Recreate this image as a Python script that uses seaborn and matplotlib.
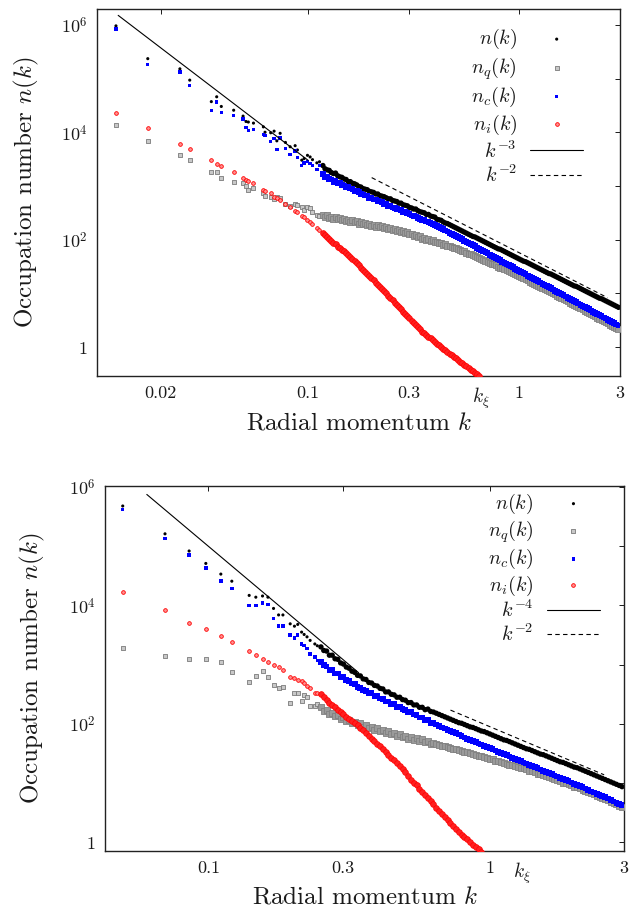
import numpy as np
import matplotlib
matplotlib.use("Agg")
import matplotlib.pyplot as plt
import seaborn as sns
from matplotlib.ticker import FixedLocator, FixedFormatter, NullLocator

# ===================== DATA =====================
# ---------- top panel ----------
top_k_sparse = [0.0123, 0.0174, 0.0247, 0.0275, 0.0348, 0.0369, 0.0388, 0.0444, 0.0492, 0.0508,
                0.0521, 0.0551, 0.0614, 0.0625, 0.0665, 0.0690, 0.0711, 0.0737, 0.0781, 0.0822,
                0.0868, 0.0890, 0.0933, 0.0957, 0.0993, 0.1022, 0.1049, 0.1100, 0.1132]
# log10 of occupation numbers at the sparse (low-k) momenta
top_logn_sparse_n = [5.98, 5.37, 5.18, 4.97, 4.57, 4.66, 4.48, 4.41, 4.30, 4.20,
                     4.19, 4.17, 4.10, 4.00, 3.99, 4.02, 3.84, 3.98, 3.81, 3.73,
                     3.75, 3.67, 3.48, 3.51, 3.57, 3.54, 3.49, 3.43, 3.45]
top_logn_sparse_nq = [4.13, 3.84, 3.57, 3.48, 3.26, 3.26, 3.15, 3.07, 3.06, 3.00,
                      2.93, 2.97, 2.87, 2.82, 2.80, 2.75, 2.79, 2.78, 2.66, 2.63,
                      2.66, 2.64, 2.60, 2.56, 2.60, 2.59, 2.52, 2.45, 2.44]
top_logn_sparse_nc = [5.92, 5.26, 5.12, 4.87, 4.41, 4.56, 4.37, 4.31, 4.25, 4.09,
                      4.03, 4.05, 3.96, 3.94, 3.83, 3.88, 3.68, 3.89, 3.70, 3.59,
                      3.65, 3.53, 3.38, 3.43, 3.45, 3.42, 3.38, 3.31, 3.38]
top_logn_sparse_ni = [4.36, 4.08, 3.78, 3.69, 3.49, 3.41, 3.38, 3.26, 3.14, 3.12,
                      3.10, 3.05, 2.93, 2.90, 2.86, 2.79, 2.77, 2.73, 2.67, 2.61,
                      2.54, 2.51, 2.44, 2.42, 2.36, 2.33, 2.30, 2.22, 2.18]

# dense (high-k) region: log10 k and log10 n
top_logk_dense = [
    -0.93, -0.92, -0.91, -0.90, -0.89, -0.88, -0.87, -0.86, -0.85, -0.84,
    -0.83, -0.82, -0.81, -0.80, -0.79, -0.78, -0.77, -0.76, -0.75, -0.74,
    -0.73, -0.72, -0.71, -0.70, -0.69, -0.68, -0.67, -0.66, -0.65, -0.64,
    -0.63, -0.62, -0.61, -0.60, -0.59, -0.58, -0.57, -0.56, -0.55, -0.54,
    -0.53, -0.52, -0.51, -0.50, -0.49, -0.48, -0.47, -0.46, -0.45, -0.44,
    -0.43, -0.42, -0.41, -0.40, -0.39, -0.38, -0.37, -0.36, -0.35, -0.34,
    -0.33, -0.32, -0.31, -0.30, -0.29, -0.28, -0.27, -0.26, -0.25, -0.24,
    -0.23, -0.22, -0.21, -0.20, -0.19, -0.18, -0.17, -0.16, -0.15, -0.14,
    -0.13, -0.12, -0.11, -0.10, -0.09, -0.08, -0.07, -0.06, -0.05, -0.04,
    -0.03, -0.02, -0.01, 0.00, 0.01, 0.02, 0.03, 0.04, 0.05, 0.06,
    0.07, 0.08, 0.09, 0.10, 0.11, 0.12, 0.13, 0.14, 0.15, 0.16,
    0.17, 0.18, 0.19, 0.20, 0.21, 0.22, 0.23, 0.24, 0.25, 0.26,
    0.27, 0.28, 0.29, 0.30, 0.31, 0.32, 0.33, 0.34, 0.35, 0.36,
    0.37, 0.38, 0.39, 0.40, 0.41, 0.42, 0.43, 0.44, 0.45, 0.46,
    0.47]
top_logn_dense_n = [
    3.38, 3.32, 3.30, 3.29, 3.25, 3.23, 3.24, 3.19, 3.17, 3.16,
    3.13, 3.12, 3.08, 3.08, 3.05, 3.04, 3.02, 2.99, 2.98, 2.95,
    2.94, 2.93, 2.90, 2.89, 2.88, 2.85, 2.85, 2.82, 2.81, 2.80,
    2.78, 2.76, 2.76, 2.73, 2.72, 2.71, 2.68, 2.68, 2.65, 2.64,
    2.63, 2.60, 2.59, 2.57, 2.57, 2.54, 2.52, 2.51, 2.50, 2.47,
    2.47, 2.44, 2.43, 2.42, 2.38, 2.37, 2.36, 2.33, 2.31, 2.30,
    2.28, 2.26, 2.24, 2.22, 2.20, 2.18, 2.16, 2.14, 2.12, 2.10,
    2.08, 2.06, 2.05, 2.03, 2.01, 1.99, 1.97, 1.95, 1.93, 1.91,
    1.89, 1.87, 1.85, 1.83, 1.82, 1.80, 1.78, 1.76, 1.74, 1.72,
    1.70, 1.68, 1.66, 1.64, 1.62, 1.60, 1.59, 1.57, 1.55, 1.53,
    1.51, 1.49, 1.47, 1.45, 1.43, 1.41, 1.39, 1.37, 1.36, 1.34,
    1.32, 1.30, 1.28, 1.26, 1.24, 1.22, 1.20, 1.18, 1.16, 1.14,
    1.13, 1.11, 1.09, 1.07, 1.05, 1.03, 1.01, 0.99, 0.97, 0.95,
    0.93, 0.91, 0.90, 0.88, 0.86, 0.84, 0.82, 0.80, 0.78, 0.76,
    0.74]
top_logn_dense_nq = [
    2.46, 2.43, 2.45, 2.41, 2.43, 2.39, 2.42, 2.38, 2.40, 2.36,
    2.39, 2.35, 2.37, 2.33, 2.36, 2.32, 2.34, 2.30, 2.33, 2.29,
    2.31, 2.27, 2.30, 2.26, 2.28, 2.24, 2.27, 2.23, 2.25, 2.21,
    2.24, 2.20, 2.22, 2.18, 2.20, 2.16, 2.18, 2.14, 2.16, 2.12,
    2.14, 2.10, 2.11, 2.07, 2.09, 2.05, 2.06, 2.02, 2.04, 2.00,
    2.01, 1.97, 1.99, 1.95, 1.96, 1.93, 1.94, 1.90, 1.91, 1.88,
    1.88, 1.86, 1.85, 1.84, 1.82, 1.81, 1.79, 1.78, 1.76, 1.74,
    1.73, 1.71, 1.69, 1.68, 1.66, 1.64, 1.62, 1.61, 1.59, 1.57,
    1.55, 1.54, 1.52, 1.50, 1.48, 1.47, 1.45, 1.43, 1.41, 1.40,
    1.38, 1.36, 1.34, 1.32, 1.30, 1.28, 1.26, 1.24, 1.22, 1.20,
    1.18, 1.16, 1.14, 1.12, 1.10, 1.08, 1.06, 1.04, 1.02, 1.00,
    0.98, 0.96, 0.94, 0.91, 0.89, 0.87, 0.85, 0.83, 0.81, 0.79,
    0.77, 0.74, 0.72, 0.70, 0.68, 0.66, 0.64, 0.62, 0.60, 0.57,
    0.55, 0.53, 0.51, 0.49, 0.47, 0.44, 0.42, 0.40, 0.38, 0.36,
    0.34]
top_logn_dense_nc = [
    3.22, 3.17, 3.17, 3.13, 3.12, 3.08, 3.10, 3.06, 3.05, 3.02,
    3.01, 2.98, 2.98, 2.95, 2.94, 2.91, 2.90, 2.89, 2.85, 2.84,
    2.82, 2.82, 2.78, 2.78, 2.75, 2.75, 2.72, 2.71, 2.70, 2.66,
    2.66, 2.63, 2.63, 2.60, 2.59, 2.57, 2.56, 2.55, 2.52, 2.51,
    2.49, 2.48, 2.45, 2.44, 2.43, 2.40, 2.39, 2.37, 2.36, 2.34,
    2.33, 2.31, 2.29, 2.27, 2.26, 2.24, 2.22, 2.20, 2.17, 2.15,
    2.13, 2.11, 2.09, 2.07, 2.05, 2.03, 2.01, 1.98, 1.96, 1.94,
    1.92, 1.90, 1.88, 1.85, 1.83, 1.81, 1.79, 1.77, 1.75, 1.72,
    1.70, 1.68, 1.66, 1.64, 1.62, 1.59, 1.57, 1.55, 1.53, 1.51,
    1.49, 1.46, 1.44, 1.42, 1.40, 1.38, 1.36, 1.33, 1.31, 1.29,
    1.27, 1.25, 1.23, 1.20, 1.18, 1.16, 1.14, 1.12, 1.10, 1.07,
    1.05, 1.03, 1.01, 0.99, 0.97, 0.94, 0.92, 0.90, 0.88, 0.86,
    0.84, 0.81, 0.79, 0.77, 0.75, 0.73, 0.71, 0.68, 0.66, 0.64,
    0.62, 0.60, 0.58, 0.55, 0.53, 0.51, 0.49, 0.47, 0.45, 0.42,
    0.40]
top_logn_dense_ni = [
    2.12, 2.09, 2.05, 2.01, 1.98, 1.94, 1.91, 1.87, 1.84, 1.81,
    1.78, 1.75, 1.71, 1.68, 1.64, 1.60, 1.56, 1.52, 1.48, 1.44,
    1.40, 1.36, 1.32, 1.28, 1.24, 1.20, 1.16, 1.12, 1.08, 1.04,
    1.00, 0.96, 0.92, 0.87, 0.83, 0.79, 0.75, 0.71, 0.66, 0.62,
    0.58, 0.54, 0.49, 0.45, 0.41, 0.37, 0.33, 0.29, 0.26, 0.22,
    0.19, 0.16, 0.13, 0.09, 0.06, 0.03, 0.00, -0.03, -0.06, -0.09,
    -0.12, -0.15, -0.18, -0.21, -0.24, -0.27, -0.30, -0.33, -0.36, -0.39,
    -0.42, -0.45, -0.48, -0.51, -0.54]

# guide power laws (end points)
top_k3_k = [0.0126, 0.100]
top_k3_n = [1.5e6, 3.0e3]
top_k2_k = [0.20, 2.62]
top_k2_n = [1430.0, 8.3]
top_kxi = 0.66

# ---------- bottom panel ----------
bot_k_sparse = [0.0496, 0.0701, 0.0854, 0.0979, 0.1107, 0.1211, 0.1396, 0.1474, 0.1557, 0.1627,
                0.1704, 0.1776, 0.1840, 0.1953, 0.2022, 0.2077, 0.2144, 0.2189, 0.2241, 0.2299,
                0.2389, 0.2438]
bot_logn_sparse_n = [5.68, 5.21, 4.92, 4.71, 4.53, 4.41, 4.17, 4.14, 4.16, 4.14,
                     3.95, 3.84, 3.84, 3.69, 3.65, 3.68, 3.55, 3.51, 3.47, 3.41,
                     3.35, 3.32]
bot_logn_sparse_nq = [3.28, 3.15, 3.10, 3.10, 3.05, 2.87, 2.71, 2.81, 2.89, 2.79,
                      2.65, 2.61, 2.62, 2.35, 2.52, 2.52, 2.38, 2.49, 2.45, 2.31,
                      2.31, 2.33]
bot_logn_sparse_nc = [5.62, 5.13, 4.85, 4.63, 4.41, 4.29, 4.00, 4.00, 4.04, 4.02,
                      3.78, 3.65, 3.65, 3.50, 3.45, 3.50, 3.35, 3.32, 3.27, 3.18,
                      3.13, 3.07]
bot_logn_sparse_ni = [4.23, 3.92, 3.70, 3.61, 3.48, 3.38, 3.23, 3.16, 3.10, 3.04,
                      2.99, 2.96, 2.91, 2.80, 2.77, 2.74, 2.72, 2.69, 2.64, 2.61,
                      2.53, 2.52]

bot_logk_dense = [
    -0.60, -0.59, -0.58, -0.57, -0.56, -0.55, -0.54, -0.53, -0.52, -0.51,
    -0.50, -0.49, -0.48, -0.47, -0.46, -0.45, -0.44, -0.43, -0.42, -0.41,
    -0.40, -0.39, -0.38, -0.37, -0.36, -0.35, -0.34, -0.33, -0.32, -0.31,
    -0.30, -0.29, -0.28, -0.27, -0.26, -0.25, -0.24, -0.23, -0.22, -0.21,
    -0.20, -0.19, -0.18, -0.17, -0.16, -0.15, -0.14, -0.13, -0.12, -0.11,
    -0.10, -0.09, -0.08, -0.07, -0.06, -0.05, -0.04, -0.03, -0.02, -0.01,
    0.00, 0.01, 0.02, 0.03, 0.04, 0.05, 0.06, 0.07, 0.08, 0.09,
    0.10, 0.11, 0.12, 0.13, 0.14, 0.15, 0.16, 0.17, 0.18, 0.19,
    0.20, 0.21, 0.22, 0.23, 0.24, 0.25, 0.26, 0.27, 0.28, 0.29,
    0.30, 0.31, 0.32, 0.33, 0.34, 0.35, 0.36, 0.37, 0.38, 0.39,
    0.40, 0.41, 0.42, 0.43, 0.44, 0.45, 0.46, 0.47]
bot_logn_dense_n = [
    3.30, 3.24, 3.23, 3.16, 3.16, 3.10, 3.09, 3.03, 3.01, 2.96,
    2.94, 2.89, 2.87, 2.82, 2.81, 2.76, 2.75, 2.70, 2.69, 2.65,
    2.64, 2.60, 2.59, 2.54, 2.54, 2.50, 2.49, 2.45, 2.45, 2.41,
    2.40, 2.36, 2.36, 2.32, 2.32, 2.28, 2.28, 2.24, 2.25, 2.21,
    2.20, 2.18, 2.16, 2.14, 2.12, 2.10, 2.08, 2.06, 2.04, 2.02,
    2.01, 1.99, 1.97, 1.95, 1.94, 1.92, 1.90, 1.88, 1.87, 1.85,
    1.83, 1.81, 1.79, 1.77, 1.75, 1.73, 1.72, 1.70, 1.68, 1.66,
    1.64, 1.62, 1.60, 1.58, 1.57, 1.55, 1.53, 1.51, 1.49, 1.48,
    1.46, 1.44, 1.42, 1.40, 1.38, 1.36, 1.35, 1.33, 1.31, 1.29,
    1.27, 1.26, 1.24, 1.22, 1.20, 1.18, 1.16, 1.14, 1.12, 1.10,
    1.08, 1.06, 1.04, 1.02, 1.00, 0.98, 0.96, 0.94]
bot_logn_dense_nq = [
    2.28, 2.22, 2.24, 2.17, 2.19, 2.13, 2.15, 2.09, 2.11, 2.05,
    2.07, 2.02, 2.04, 1.98, 2.01, 1.95, 1.98, 1.93, 1.95, 1.90,
    1.93, 1.88, 1.90, 1.85, 1.88, 1.83, 1.85, 1.80, 1.83, 1.78,
    1.80, 1.75, 1.78, 1.73, 1.76, 1.71, 1.74, 1.69, 1.71, 1.66,
    1.67, 1.66, 1.65, 1.63, 1.62, 1.61, 1.60, 1.58, 1.57, 1.56,
    1.55, 1.53, 1.52, 1.50, 1.49, 1.48, 1.46, 1.45, 1.44, 1.42,
    1.41, 1.40, 1.38, 1.37, 1.36, 1.34, 1.33, 1.31, 1.30, 1.29,
    1.27, 1.26, 1.25, 1.23, 1.21, 1.20, 1.18, 1.16, 1.15, 1.13,
    1.12, 1.10, 1.08, 1.07, 1.05, 1.03, 1.01, 1.00, 0.98, 0.96,
    0.94, 0.93, 0.91, 0.89, 0.87, 0.85, 0.83, 0.81, 0.79, 0.77,
    0.75, 0.73, 0.71, 0.68, 0.66, 0.64, 0.62, 0.60]
bot_logn_dense_nc = [
    3.05, 2.99, 2.97, 2.91, 2.91, 2.85, 2.85, 2.79, 2.79, 2.74,
    2.73, 2.68, 2.67, 2.62, 2.61, 2.57, 2.56, 2.52, 2.52, 2.47,
    2.47, 2.43, 2.42, 2.38, 2.38, 2.34, 2.33, 2.29, 2.29, 2.25,
    2.24, 2.20, 2.20, 2.16, 2.15, 2.11, 2.11, 2.07, 2.06, 2.02,
    2.01, 1.99, 1.96, 1.94, 1.92, 1.90, 1.88, 1.86, 1.84, 1.82,
    1.79, 1.77, 1.75, 1.73, 1.71, 1.69, 1.67, 1.65, 1.63, 1.61,
    1.59, 1.57, 1.55, 1.53, 1.51, 1.49, 1.47, 1.45, 1.43, 1.41,
    1.39, 1.37, 1.35, 1.33, 1.31, 1.29, 1.27, 1.25, 1.23, 1.21,
    1.19, 1.17, 1.15, 1.13, 1.11, 1.09, 1.07, 1.05, 1.03, 1.01,
    0.99, 0.97, 0.95, 0.93, 0.91, 0.88, 0.86, 0.84, 0.82, 0.80,
    0.78, 0.76, 0.74, 0.71, 0.69, 0.67, 0.65, 0.63]
bot_logn_dense_ni = [
    2.50, 2.45, 2.41, 2.36, 2.32, 2.28, 2.24, 2.20, 2.16, 2.12,
    2.09, 2.05, 2.02, 1.98, 1.93, 1.89, 1.84, 1.80, 1.75, 1.71,
    1.66, 1.62, 1.57, 1.53, 1.48, 1.43, 1.39, 1.34, 1.29, 1.23,
    1.18, 1.12, 1.06, 1.01, 0.96, 0.90, 0.85, 0.80, 0.74, 0.69,
    0.64, 0.58, 0.53, 0.47, 0.42, 0.37, 0.32, 0.27, 0.22, 0.18,
    0.13, 0.09, 0.05, 0.01, -0.04, -0.08, -0.12, -0.16]

bot_k4_k = [0.0604, 0.342]
bot_k4_n = [7.5e5, 731.0]
bot_k2_k = [0.725, 2.55]
bot_k2_n = [171.0, 13.8]
bot_kxi = 1.30

# ===================== STYLE =====================
sns.set_style("white")
plt.rcParams.update({
    "font.family": "cmr10",
    "mathtext.fontset": "cm",
    "axes.unicode_minus": False,
    "axes.formatter.use_mathtext": True,
    "text.color": "#1a1a1a",
    "axes.labelcolor": "#1a1a1a",
    "xtick.color": "#1a1a1a",
    "ytick.color": "#1a1a1a",
    "axes.edgecolor": "#222222",
})

STYLE = {
    "n":  dict(marker="o", color="black", edgecolor="none", linewidth=0, s=5, zorder=2,
               d_color="black", d_edge="none", d_lw=0, s_dense=15),
    "nq": dict(marker="s", color="#c8c8c8", edgecolor="#7a7a7a", linewidth=0.6, s=5.5, zorder=3,
               d_color="#9a9a9a", d_edge="#808080", d_lw=0.6, s_dense=13),
    "nc": dict(marker="s", color="#0000ff", edgecolor="none", linewidth=0, s=6, zorder=4,
               d_color="#0000ff", d_edge="none", d_lw=0, s_dense=17),
    "ni": dict(marker="o", color="#ff9090", edgecolor="#ff0000", linewidth=0.6, s=7, zorder=5,
               d_color="#ff2020", d_edge="#ff0000", d_lw=0.5, s_dense=17),
}
LABELS = {"n": r"$n(k)$", "nq": r"$n_q(k)$", "nc": r"$n_c(k)$", "ni": r"$n_i(k)$"}


def draw_panel(ax, k_sparse, sparse, logk_dense, dense, steep, shallow, steep_label,
               xlim, ylim, xticks, xticklabels, kxi, ylabel_x, legend_anchor, labelspacing):
    ax.set_xscale("log")
    ax.set_yscale("log")
    for key in ["n", "nq", "nc", "ni"]:
        st = STYLE[key]
        sns.scatterplot(x=np.array(k_sparse), y=10 ** np.array(sparse[key]), ax=ax,
                        marker=st["marker"], s=st["s"], color=st["color"],
                        edgecolor=st["edgecolor"], linewidth=st["linewidth"],
                        zorder=st["zorder"], label=LABELS[key], legend=False)
        ld = np.array(dense[key])
        kd = 10 ** np.array(logk_dense[:len(ld)])
        sns.scatterplot(x=kd, y=10 ** ld, ax=ax,
                        marker=st["marker"], s=st["s_dense"], color=st["d_color"],
                        edgecolor=st["d_edge"], linewidth=st["d_lw"],
                        zorder=st["zorder"], legend=False)
    sns.lineplot(x=steep[0], y=steep[1], ax=ax, color="black", linewidth=0.8,
                 estimator=None, sort=False, label=steep_label, legend=False, zorder=6)
    sns.lineplot(x=shallow[0], y=shallow[1], ax=ax, color="black", linewidth=0.8,
                 linestyle=(0, (4, 3)), estimator=None, sort=False,
                 label=r"$k^{-2}$", legend=False, zorder=6)

    ax.set_xlim(*xlim)
    ax.set_ylim(*ylim)
    ax.xaxis.set_major_locator(FixedLocator(xticks))
    ax.xaxis.set_major_formatter(FixedFormatter(xticklabels))
    ax.xaxis.set_minor_locator(FixedLocator([kxi]))
    ax.xaxis.set_minor_formatter(FixedFormatter([r"$k_\xi$"]))
    ydec = [1, 10, 100, 1e3, 1e4, 1e5, 1e6]
    ylab = [r"$1$", "", r"$10^2$", "", r"$10^4$", "", r"$10^6$"]
    ax.yaxis.set_major_locator(FixedLocator(ydec))
    ax.yaxis.set_major_formatter(FixedFormatter(ylab))
    ax.yaxis.set_minor_locator(NullLocator())
    ax.tick_params(axis="both", which="major", direction="in", length=3.8, width=0.7,
                   labelsize=13, pad=7, top=True, right=True)
    ax.tick_params(axis="x", which="minor", direction="in", length=7.5, width=0.7,
                   labelsize=14, pad=7, top=False)
    for sp in ax.spines.values():
        sp.set_linewidth(1.0)

    ax.set_xlabel(r"Radial momentum $k$", fontsize=18)
    ax.set_ylabel(r"Occupation number $n(k)$", fontsize=18)
    ax.xaxis.set_label_coords(0.5, -0.098)
    ax.yaxis.set_label_coords(ylabel_x, 0.5)

    handles, labels = ax.get_legend_handles_labels()
    hmap = dict(zip(labels, handles))
    order = [LABELS["n"], LABELS["nq"], LABELS["nc"], LABELS["ni"], steep_label, r"$k^{-2}$"]
    ax.legend([hmap[l] for l in order], order, loc="upper right", bbox_to_anchor=legend_anchor,
              frameon=False, markerfirst=False, scatterpoints=1, handlelength=2.65,
              handletextpad=0.65, labelspacing=labelspacing, borderpad=0, borderaxespad=0,
              fontsize=14.5)


fig = plt.figure(figsize=(6.41, 9.09), dpi=100)
ax1 = fig.add_axes([0.1513, 0.5864, 0.8159, 0.4037])
ax2 = fig.add_axes([0.1638, 0.0638, 0.8097, 0.4015])

draw_panel(ax1, top_k_sparse,
           {"n": top_logn_sparse_n, "nq": top_logn_sparse_nq,
            "nc": top_logn_sparse_nc, "ni": top_logn_sparse_ni},
           top_logk_dense,
           {"n": top_logn_dense_n, "nq": top_logn_dense_nq,
            "nc": top_logn_dense_nc, "ni": top_logn_dense_ni},
           (top_k3_k, top_k3_n), (top_k2_k, top_k2_n), r"$k^{-3}$",
           (0.01, 3.0), (0.29, 1.97e6), [0.02, 0.1, 0.3, 1, 3],
           ["0.02", "0.1", "0.3", "1", "3"], top_kxi, -0.108, (0.93, 0.95), 0.17)

draw_panel(ax2, bot_k_sparse,
           {"n": bot_logn_sparse_n, "nq": bot_logn_sparse_nq,
            "nc": bot_logn_sparse_nc, "ni": bot_logn_sparse_ni},
           bot_logk_dense,
           {"n": bot_logn_dense_n, "nq": bot_logn_dense_nq,
            "nc": bot_logn_dense_nc, "ni": bot_logn_dense_ni},
           (bot_k4_k, bot_k4_n), (bot_k2_k, bot_k2_n), r"$k^{-4}$",
           (0.0429, 3.0), (0.713, 1.04e6), [0.1, 0.3, 1, 3],
           ["0.1", "0.3", "1", "3"], bot_kxi, -0.111, (0.954, 0.984), 0.11)

fig.savefig("out.png", dpi=100)
